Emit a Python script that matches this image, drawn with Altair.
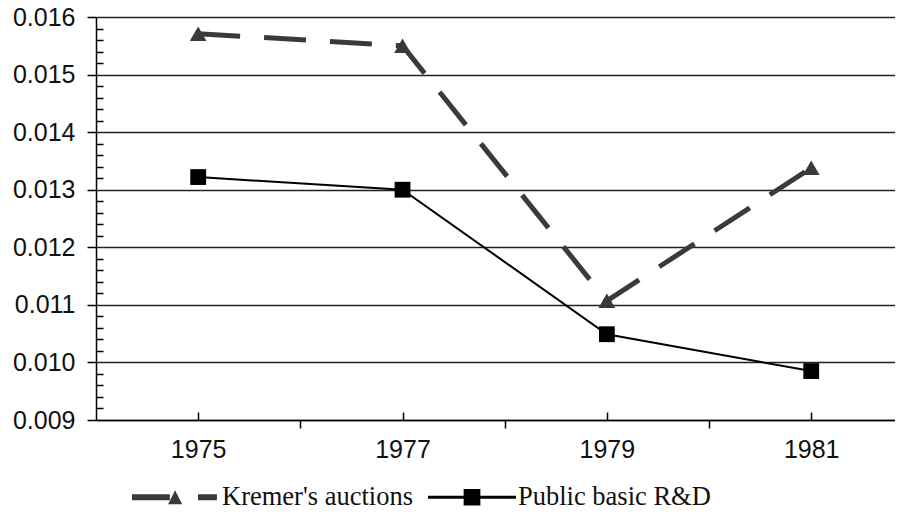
import altair as alt
import pandas as pd

# ---- data ----
years = [1975, 1977, 1979, 1981]
kremer = [0.01571, 0.01550, 0.01107, 0.01338]
public = [0.01322, 0.01300, 0.01049, 0.00985]
series_names = ["Kremer's auctions", "Public basic R&D"]

y_major_ticks = [0.009, 0.010, 0.011, 0.012, 0.013, 0.014, 0.015, 0.016]
y_minor_ticks = [round(0.009 + 0.0002 * i, 4) for i in range(36) if i % 5 != 0]
x_label_ticks = [1975, 1977, 1979, 1981]
x_boundary_ticks = [1976, 1978, 1980]

df = pd.DataFrame({
    "year": years * 2,
    "value": kremer + public,
    "series": [series_names[0]] * len(years) + [series_names[1]] * len(years),
})

# legend symbols: line + marker drawn as one custom path each
path_k = ("M-1,-0.07L-0.14,-0.07L-0.14,0.07L-1,0.07Z "
          "M-0.18,0.16L-0.02,-0.16L0.14,0.16Z "
          "M0.5,-0.07L0.93,-0.07L0.93,0.07L0.5,0.07Z")
path_p = ("M-1,-0.035L1,-0.035L1,0.035L-1,0.035Z "
          "M-0.19,-0.19L0.19,-0.19L0.19,0.19L-0.19,0.19Z")

DARK = "#3a3a3a"
xscale = alt.Scale(domain=[1974, 1981.82], nice=False, zero=False)
yscale = alt.Scale(domain=[0.009, 0.016], nice=False, zero=False)

x_main = alt.X("year:Q", scale=xscale, title=None,
               axis=alt.Axis(orient="bottom", values=x_boundary_ticks, labels=False,
                             tickSize=8, tickColor="black", tickWidth=1.5,
                             domainColor="black", domainWidth=1.5, grid=False))
y_main = alt.Y("value:Q", scale=yscale, title=None,
               axis=alt.Axis(orient="left", values=y_major_ticks, format=".3f",
                             tickSize=9, tickColor="black", tickWidth=1.5,
                             labelPadding=12, labelFont="Liberation Sans",
                             labelFontSize=25, labelColor="#111",
                             domainColor="black", domainWidth=1.5,
                             grid=True, gridColor="#222", gridWidth=1.5))
x_none = alt.X("year:Q", scale=xscale, axis=None)
y_none = alt.Y("value:Q", scale=yscale, axis=None)

base = alt.Chart(df)
is_k = alt.datum.series == series_names[0]
is_p = alt.datum.series == series_names[1]

k_line = base.transform_filter(is_k).mark_line(
    color=DARK, strokeWidth=5, strokeDash=[42, 24]).encode(x=x_main, y=y_main)
p_line = base.transform_filter(is_p).mark_line(
    color="black", strokeWidth=2).encode(x=x_none, y=y_none)
k_pts = base.transform_filter(is_k).mark_point(
    shape="triangle-up", filled=True, color=DARK, size=280, opacity=1).encode(x=x_none, y=y_none)
p_pts = base.transform_filter(is_p).mark_point(
    shape="square", filled=True, color="black", size=250, opacity=1).encode(x=x_none, y=y_none)

legend_kw = dict(orient="none", legendX=36, legendY=436, direction="horizontal",
                 title=None, symbolSize=7744, symbolStrokeWidth=0, symbolOpacity=1,
                 labelFont="Liberation Serif", labelFontSize=26.5, labelColor="#111",
                 labelLimit=400, labelOffset=2, columnPadding=15, padding=0)

legend_layer = base.mark_point(filled=True, opacity=0).encode(
    x=alt.X("year:Q", scale=xscale, title=None,
            axis=alt.Axis(orient="bottom", values=x_label_ticks, format="d", offset=-8,
                          domain=False, tickSize=8, tickColor="black", tickWidth=1.5,
                          labelPadding=17, labelFont="Liberation Sans",
                          labelFontSize=25, labelColor="#111", grid=False)),
    y=alt.Y("value:Q", scale=yscale, title=None,
            axis=alt.Axis(orient="left", values=y_minor_ticks, offset=-7, labels=False,
                          domain=False, tickSize=7, tickColor="black", tickWidth=1.5,
                          grid=False)),
    color=alt.Color("series:N", scale=alt.Scale(domain=series_names, range=[DARK, "black"]),
                    legend=alt.Legend(**legend_kw)),
    shape=alt.Shape("series:N", scale=alt.Scale(domain=series_names, range=[path_k, path_p]),
                    legend=alt.Legend(**legend_kw)),
)

chart = alt.layer(k_line, p_line, k_pts, p_pts, legend_layer).resolve_axis(
    x="independent", y="independent"
).properties(
    width=799, height=403,
    padding={"left": 88, "top": 9, "right": 0, "bottom": 90},
    autosize=alt.AutoSizeParams(type="none"),
).configure_view(stroke=None).configure(background="white")

chart.save("out.html", embed_options={"renderer": "svg", "actions": False})
